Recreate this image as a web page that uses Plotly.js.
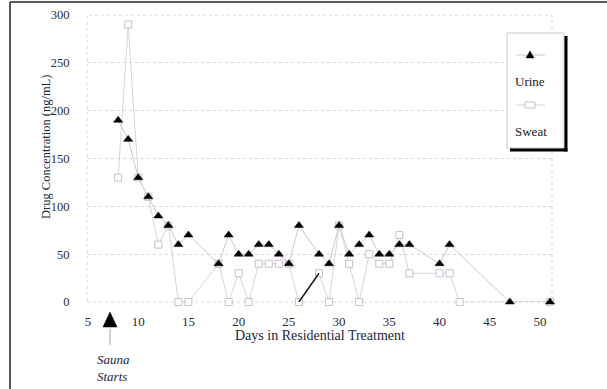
<!DOCTYPE html>
<html>
<head>
<meta charset="utf-8">
<script src="https://cdn.plot.ly/plotly-3.0.1.min.js"></script>
<style>html,body{margin:0;padding:0;background:#fff;}#chart{width:607px;height:389px;}</style>
</head>
<body>
<div id="chart"></div>
<script>
// ---- data ----
const urineDays = [8,9,10,11,12,13,14,15,18,19,20,21,22,23,24,25,26,28,29,30,31,32,33,34,35,36,37,40,41,47,51];
const urineConc = [190,170,130,110,90,80,60,70,40,70,50,50,60,60,50,40,80,50,40,80,50,60,70,50,50,60,60,40,60,0,0];
const sweatDays = [8,9,10,11,12,13,14,15,18,19,20,21,22,23,24,25,26,28,29,30,31,32,33,34,35,36,37,40,41,42,51];
const sweatConc = [130,290,130,110,60,80,0,0,40,0,30,0,40,40,40,40,0,30,0,80,40,0,50,40,40,70,30,30,30,0,0];
const xTicks = [5,10,15,20,25,30,35,40,45,50];
const yTicks = [0,50,100,150,200,250,300];
const seriesNames = ['Urine','Sweat'];
const xTitle = 'Days in Residential Treatment';
const yTitle = 'Drug Concentration (ng/mL)';
const saunaText = ['Sauna','Starts'];

// ---- geometry helpers (pixel -> paper) ----
const L = 87, R = 552, T = 15, B = 302;
const px = x => (x - L) / (R - L);
const py = y => (B - y) / (B - T);
const serif = 'Liberation Serif, Times New Roman, serif';
const gridC = '#ddd0dd';
const urineLineC = '#d3c4d3';
const sweatLineC = '#cbd8dc';
const sqC = '#cdbccd';

// dark segment of the sweat line (day 26 -> 28)
const i0 = sweatDays.indexOf(26), i1 = sweatDays.indexOf(28);

const traces = [
  {x: sweatDays, y: sweatConc, name: seriesNames[1], mode: 'lines+markers', cliponaxis: false,
   line: {color: sweatLineC, width: 1},
   marker: {symbol: 'square', size: 7, color: '#ffffff', line: {color: sqC, width: 1}}},
  {x: sweatDays.slice(i0, i1 + 1), y: sweatConc.slice(i0, i1 + 1), mode: 'lines', cliponaxis: false,
   line: {color: '#1a1a1a', width: 1.5}, showlegend: false, hoverinfo: 'skip'},
  {x: urineDays, y: urineConc, name: seriesNames[0], mode: 'lines+markers', cliponaxis: false,
   line: {color: urineLineC, width: 1},
   marker: {symbol: 'triangle-up', size: 8, color: '#000000', line: {color: '#000', width: 0.5}}}
];

const shapes = [
  // plot frame (dotted)
  {type: 'rect', xref: 'paper', yref: 'paper', x0: 0, x1: 1, y0: 0, y1: 1,
   line: {color: gridC, width: 1, dash: 'dot'}, layer: 'below'},
  // outer black frame lines (top, left)
  {type: 'line', xref: 'paper', yref: 'paper', x0: px(10), x1: px(607), y0: py(2), y1: py(2),
   line: {color: '#222', width: 1.5}},
  {type: 'line', xref: 'paper', yref: 'paper', x0: px(10), x1: px(10), y0: py(2), y1: py(389),
   line: {color: '#222', width: 1.5}},
  // legend shadow
  {type: 'rect', xref: 'paper', yref: 'paper', x0: px(564), x1: px(567.5), y0: py(151.5), y1: py(36),
   fillcolor: '#000', line: {width: 0}, layer: 'above'},
  {type: 'rect', xref: 'paper', yref: 'paper', x0: px(510), x1: px(567.5), y0: py(151.5), y1: py(148),
   fillcolor: '#000', line: {width: 0}, layer: 'above'},
  // legend box
  {type: 'rect', xref: 'paper', yref: 'paper', x0: px(507), x1: px(564), y0: py(148), y1: py(33),
   fillcolor: '#fff', line: {color: '#d2c4d2', width: 1}, layer: 'above'},
  // legend urine glyph
  {type: 'line', xref: 'paper', yref: 'paper', x0: px(516), x1: px(545), y0: py(55), y1: py(55),
   line: {color: urineLineC, width: 1}, layer: 'above'},
  {type: 'path', xref: 'paper', yref: 'paper', layer: 'above',
   path: `M ${px(526)},${py(58)} L ${px(534)},${py(58)} L ${px(530)},${py(51)} Z`,
   fillcolor: '#000', line: {color: '#000', width: 0.5}},
  // legend sweat glyph
  {type: 'line', xref: 'paper', yref: 'paper', x0: px(516), x1: px(545), y0: py(105), y1: py(105),
   line: {color: sweatLineC, width: 1}, layer: 'above'},
  {type: 'rect', xref: 'paper', yref: 'paper', x0: px(525), x1: px(535), y0: py(108), y1: py(102),
   fillcolor: '#fff', line: {color: sqC, width: 1}, layer: 'above'},
  // sauna start marker
  {type: 'path', xref: 'paper', yref: 'paper',
   path: `M ${px(103)},${py(327)} L ${px(117)},${py(327)} L ${px(110)},${py(312)} Z`,
   fillcolor: '#000', line: {color: '#000', width: 0.5}},
  {type: 'line', xref: 'paper', yref: 'paper', x0: px(110), x1: px(110), y0: py(329), y1: py(345),
   line: {color: '#a8a8a8', width: 1}}
];

const annotations = [
  {xref: 'paper', yref: 'paper', x: 0.5, y: py(335), text: xTitle, showarrow: false,
   xanchor: 'center', yanchor: 'middle', font: {family: serif, size: 14, color: '#24243a'}},
  {xref: 'paper', yref: 'paper', x: px(46), y: py(147), text: yTitle, showarrow: false, textangle: -90,
   xanchor: 'center', yanchor: 'middle', font: {family: serif, size: 12.5, color: '#24243a'}},
  {xref: 'paper', yref: 'paper', x: px(530), y: py(82), text: seriesNames[0], showarrow: false,
   xanchor: 'center', yanchor: 'middle', font: {family: serif, size: 13, color: '#222'}},
  {xref: 'paper', yref: 'paper', x: px(531), y: py(131), text: seriesNames[1], showarrow: false,
   xanchor: 'center', yanchor: 'middle', font: {family: serif, size: 13, color: '#222'}},
  {xref: 'paper', yref: 'paper', x: px(95), y: py(368), text: '<i>' + saunaText.join('<br>') + '</i>',
   showarrow: false, align: 'left', xanchor: 'left', yanchor: 'middle',
   font: {family: serif, size: 13, color: '#24243a'}}
];

const layout = {
  width: 607, height: 389,
  margin: {l: L, r: 607 - R, t: T, b: 389 - B, pad: 0},
  paper_bgcolor: '#fff', plot_bgcolor: '#fff',
  showlegend: false,
  xaxis: {range: [4.9, 51.2], tickvals: xTicks, ticktext: xTicks.map(String),
    showgrid: false, zeroline: false, showline: false,
    ticks: 'outside', ticklen: 7, tickcolor: 'rgba(0,0,0,0)',
    tickfont: {family: serif, size: 13, color: '#2a2a3a'}},
  yaxis: {range: [0, 300], tickvals: yTicks, ticktext: yTicks.map(String),
    showgrid: true, gridcolor: gridC, griddash: 'dot', gridwidth: 1,
    zeroline: false, showline: false,
    ticks: 'outside', ticklen: 14, tickcolor: 'rgba(0,0,0,0)',
    tickfont: {family: serif, size: 12.5, color: '#2a2a3a'}},
  shapes: shapes,
  annotations: annotations
};

Plotly.newPlot('chart', traces, layout, {displayModeBar: false, staticPlot: true});
</script>
</body>
</html>
